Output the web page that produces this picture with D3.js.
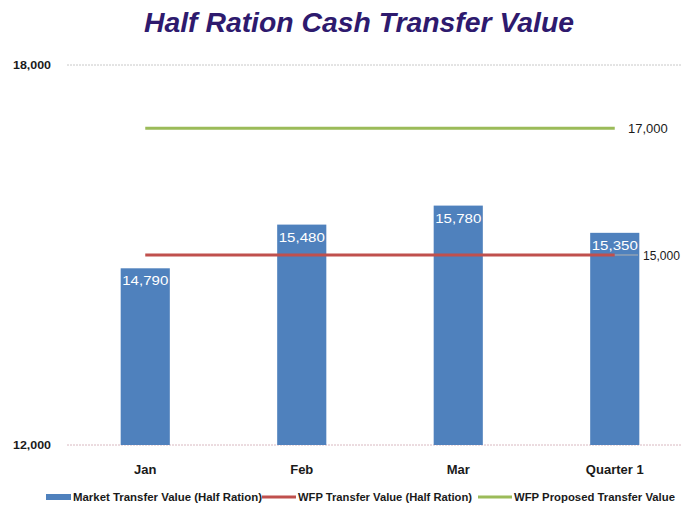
<!DOCTYPE html>
<html>
<head>
<script src="https://cdnjs.cloudflare.com/ajax/libs/d3/7.8.5/d3.min.js"></script>
<style>
    body { margin: 0; background: #fff; }
    text { font-family: "Liberation Sans", Arial, sans-serif; }
</style>
</head>
<body>
<svg id="chart" width="681" height="505"></svg>
<script>
    // chart values
    const categories = ["Jan", "Feb", "Mar", "Quarter 1"]
    const marketValues = [14790, 15480, 15780, 15350]
    const wfpValue = 15000
    const proposedValue = 17000
    const yTicks = [12000, 18000]
    const seriesNames = ["Market Transfer Value (Half Ration)", "WFP Transfer Value (Half Ration)", "WFP Proposed Transfer Value"]

    const svg = d3.select("#chart")
    const blue = "#4f81bd", red = "#c0504d", green = "#9bbb59"

    const x = d3.scaleBand()
        .domain(categories)
        .range([67, 693])
        .paddingInner(0.686)
        .paddingOuter(0.343)

    const y = d3.scaleLinear()
        .domain([12000, 18000])
        .range([445, 65])

    const fmt = d3.format(",")
    const mid = c => x(c) + x.bandwidth() / 2

    // title
    svg.append("text")
        .attr("x", 359).attr("y", 32)
        .attr("text-anchor", "middle")
        .attr("font-size", 28).attr("font-weight", "bold").attr("font-style", "italic")
        .attr("fill", "#2e1a6e")
        .attr("textLength", 430).attr("lengthAdjust", "spacingAndGlyphs")
        .text("Half Ration Cash Transfer Value")

    // gridlines + y labels
    svg.selectAll(".grid").data(yTicks).enter().append("line")
        .attr("x1", 67).attr("x2", 681)
        .attr("y1", d => y(d)).attr("y2", d => y(d))
        .attr("stroke", (d, i) => i === 0 ? "#d8b8c0" : "#c8c8c8")
        .attr("stroke-width", 1)
        .attr("stroke-dasharray", "2,1")

    svg.selectAll(".ylab").data(yTicks).enter().append("text")
        .attr("x", 13).attr("y", d => y(d) + 4)
        .attr("font-size", 11).attr("font-weight", "bold").attr("fill", "#1a1a1a")
        .attr("textLength", 38).attr("lengthAdjust", "spacingAndGlyphs")
        .text(d => fmt(d))

    // bars
    svg.selectAll(".bar").data(marketValues).enter().append("rect")
        .attr("x", (d, i) => x(categories[i]))
        .attr("width", x.bandwidth())
        .attr("y", d => y(d))
        .attr("height", d => y(12000) - y(d))
        .attr("fill", blue)

    // reference lines
    const first = mid(categories[0]), last = mid(categories[categories.length - 1])
    svg.append("line")
        .attr("x1", first).attr("x2", last)
        .attr("y1", y(proposedValue)).attr("y2", y(proposedValue))
        .attr("stroke", green).attr("stroke-width", 3)
    svg.append("line")
        .attr("x1", first).attr("x2", last)
        .attr("y1", y(wfpValue)).attr("y2", y(wfpValue))
        .attr("stroke", red).attr("stroke-width", 3)
    svg.append("line")
        .attr("x1", last).attr("x2", 638)
        .attr("y1", y(wfpValue)).attr("y2", y(wfpValue))
        .attr("stroke", "#b0b0b0").attr("stroke-width", 1)

    svg.append("text")
        .attr("x", 628).attr("y", y(proposedValue) + 5)
        .attr("font-size", 13).attr("fill", "#1a1a1a")
        .text(fmt(proposedValue))
    svg.append("text")
        .attr("x", 643).attr("y", y(wfpValue) + 5)
        .attr("font-size", 12.5).attr("fill", "#1a1a1a")
        .attr("textLength", 37).attr("lengthAdjust", "spacingAndGlyphs")
        .text(fmt(wfpValue))

    // bar labels
    svg.selectAll(".blab").data(marketValues).enter().append("text")
        .attr("x", (d, i) => mid(categories[i]))
        .attr("y", d => y(d) + 17)
        .attr("text-anchor", "middle")
        .attr("font-size", 13).attr("fill", "#fff")
        .attr("textLength", 46).attr("lengthAdjust", "spacingAndGlyphs")
        .text(d => fmt(d))

    // category labels
    svg.selectAll(".xlab").data(categories).enter().append("text")
        .attr("x", d => mid(d)).attr("y", 474)
        .attr("text-anchor", "middle")
        .attr("font-size", 13).attr("font-weight", "bold").attr("fill", "#1a1a1a")
        .text(d => d)

    // legend
    const legendX = [46, 262, 478]
    const legendW = [189, 174, 161]
    const colors = [blue, red, green]
    const leg = svg.selectAll(".leg").data(seriesNames).enter().append("g")
        .attr("transform", (d, i) => `translate(${legendX[i]},497)`)
    leg.append("rect")
        .attr("x", 0).attr("y", (d, i) => i === 0 ? -3 : -1.5)
        .attr("width", (d, i) => i === 0 ? 25 : 34)
        .attr("height", (d, i) => i === 0 ? 6 : 3)
        .attr("fill", (d, i) => colors[i])
    leg.append("text")
        .attr("x", (d, i) => i === 0 ? 27 : 36).attr("y", 4)
        .attr("font-size", 10).attr("font-weight", "bold").attr("fill", "#1a1a1a")
        .attr("textLength", (d, i) => legendW[i])
        .attr("lengthAdjust", "spacingAndGlyphs")
        .text(d => d)
</script>
</body>
</html>
